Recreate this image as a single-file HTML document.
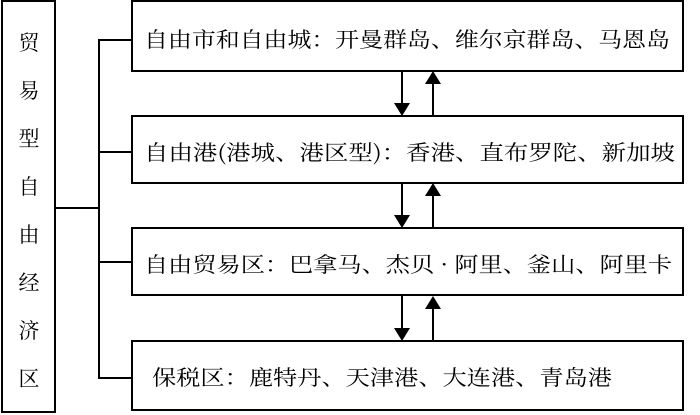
<html><body style="margin:0;width:700px;height:415px;background:#fff;overflow:hidden">
<svg width="700" height="415" xmlns="http://www.w3.org/2000/svg" style="font-family:'Noto Serif CJK SC','Liberation Serif',serif">
<g fill="none" stroke="#000" stroke-width="2">
<rect x="2" y="1" width="53" height="411"/>
<rect x="132" y="1" width="551" height="70"/>
<rect x="132" y="116" width="551" height="67"/>
<rect x="132" y="228" width="551" height="67"/>
<rect x="132" y="341" width="551" height="69"/>
<path d="M55 208H99M131 40H99V378H131M99 152H131M99 262H131"/>
<path d="M402 71V105M433 83V116M402 183V218M433 195V228M402 295V330M433 307V341"/>
</g>
<g fill="#000">
<path d="M394 103h16l-8 13zM425 84h16l-8-13zM394 215h16l-8 13zM425 196h16l-8-13zM394 328h16l-8 13zM425 309h16l-8-13z"/>
</g>
<g font-size="21" text-anchor="middle">
<text x="29" y="50">贸</text><text x="29" y="98">易</text><text x="29" y="146">型</text><text x="29" y="194">自</text><text x="29" y="242">由</text><text x="29" y="290">经</text><text x="29" y="338">济</text><text x="29" y="386">区</text>
</g>
<g font-size="21">
<text x="144" y="47" textLength="526" lengthAdjust="spacingAndGlyphs">自由市和自由城：开曼群岛、维尔京群岛、马恩岛</text>
<text x="144" y="160" textLength="531" lengthAdjust="spacingAndGlyphs">自由港(港城、港区型)：香港、直布罗陀、新加坡</text>
<text x="144" y="272" textLength="528" lengthAdjust="spacingAndGlyphs">自由贸易区：巴拿马、杰贝 · 阿里、釜山、阿里卡</text>
<text x="152" y="385" textLength="460" lengthAdjust="spacingAndGlyphs">保税区：鹿特丹、天津港、大连港、青岛港</text>
</g>
</svg>
</body></html>
